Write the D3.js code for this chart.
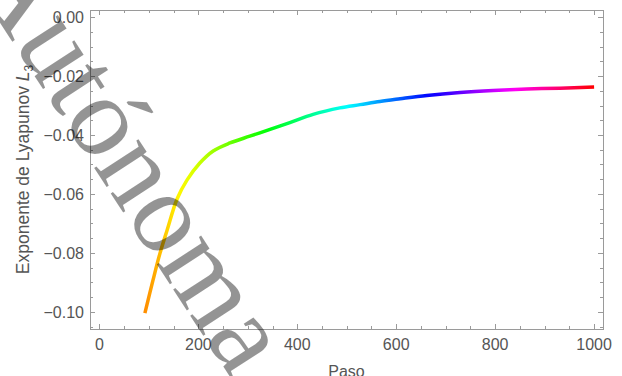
<!DOCTYPE html>
<html>
<head>
<meta charset="utf-8">
<script src="https://cdn.jsdelivr.net/npm/d3@7"></script>
<style>
  html, body { margin: 0; padding: 0; background: #fff; }
  svg { display: block; }
</style>
</head>
<body>
<svg id="chart" width="622" height="376"></svg>
<script>
// Lyapunov exponent L3 as a function of the step count
const steps = [92, 108, 122, 137, 157, 177, 203, 230, 264, 304, 345, 385, 432, 486, 527, 567, 608, 662, 729, 796, 864, 931, 1000];
const exponents = [-0.1004, -0.0895, -0.0804, -0.0722, -0.0617, -0.0553, -0.0495, -0.0454, -0.0427, -0.0404, -0.0381, -0.0358, -0.0330, -0.0308, -0.0297, -0.0286, -0.0277, -0.0266, -0.0256, -0.0249, -0.0244, -0.0241, -0.0237];

const xTickValues = [0, 200, 400, 600, 800, 1000];
const yTickValues = [0, -0.02, -0.04, -0.06, -0.08, -0.10];
const xLabel = "Paso";
const yLabelText = "Exponente de Lyapunov ";
const watermarkText = "Autónoma";

const svg = d3.select("#chart");
const plotLeft = 90, plotRight = 603, plotTop = 10, plotBottom = 329;

const x = d3.scaleLinear().domain([-19, 1018]).range([plotLeft, plotRight]);
const y = d3.scaleLinear().domain([-0.1058, 0.0024]).range([plotBottom, plotTop]);

// hue runs around the colour wheel with the step number
const hueOf = s => d3.hsl(360 * s / 1000, 1, 0.5).toString();

const defs = svg.append("defs");
const s0 = steps[0], s1 = steps[steps.length - 1];
const grad = defs.append("linearGradient")
  .attr("id", "hueGrad")
  .attr("gradientUnits", "userSpaceOnUse")
  .attr("x1", x(s0)).attr("x2", x(s1))
  .attr("y1", 0).attr("y2", 0);
const stopSteps = d3.range(0, 41).map(i => s0 + (s1 - s0) * i / 40);
grad.selectAll("stop").data(stopSteps).enter().append("stop")
  .attr("offset", (d, i) => i / 40)
  .attr("stop-color", d => hueOf(d));

const frameColor = "#9a9a9a";
const textColor = "#555555";
const font = "'Liberation Sans', Arial, sans-serif";

// frame
svg.append("rect")
  .attr("x", plotLeft + 0.5).attr("y", plotTop + 0.5)
  .attr("width", plotRight - plotLeft).attr("height", plotBottom - plotTop)
  .attr("fill", "none").attr("stroke", frameColor).attr("stroke-width", 1);

// ticks on all four sides, pointing inward
const xMinor = d3.range(0, 1001, 50);
const yMinor = d3.range(0, 22).map(i => -i * 0.005);
const isMajorX = v => v % 200 === 0;
const isMajorY = v => Math.abs(Math.round(v * 1000) % 20) === 0;

const tickG = svg.append("g").attr("stroke", frameColor).attr("stroke-width", 1);
xMinor.forEach(v => {
  const len = isMajorX(v) ? 5 : 3;
  const px = Math.round(x(v)) + 0.5;
  tickG.append("line").attr("x1", px).attr("x2", px).attr("y1", plotBottom).attr("y2", plotBottom - len);
  tickG.append("line").attr("x1", px).attr("x2", px).attr("y1", plotTop).attr("y2", plotTop + len);
});
yMinor.filter(v => v >= y.domain()[0]).forEach(v => {
  const len = isMajorY(v) ? 5 : 3;
  const py = Math.round(y(v)) + 0.5;
  tickG.append("line").attr("x1", plotLeft).attr("x2", plotLeft + len).attr("y1", py).attr("y2", py);
  tickG.append("line").attr("x1", plotRight).attr("x2", plotRight - len).attr("y1", py).attr("y2", py);
});

// tick labels
const fmtY = d3.format(".2f");
svg.append("g").selectAll("text").data(xTickValues).enter().append("text")
  .attr("x", d => x(d)).attr("y", 350)
  .attr("text-anchor", "middle")
  .attr("font-family", font).attr("font-size", 16).attr("fill", textColor)
  .text(d => d);
svg.append("g").selectAll("text").data(yTickValues).enter().append("text")
  .attr("x", 84).attr("y", d => y(d) + 6)
  .attr("text-anchor", "end")
  .attr("font-family", font).attr("font-size", 16).attr("fill", textColor)
  .text(d => fmtY(d).replace("-", "\u2212"));

// axis titles
svg.append("text")
  .attr("x", (plotLeft + plotRight) / 2).attr("y", 377)
  .attr("text-anchor", "middle")
  .attr("font-family", font).attr("font-size", 16).attr("fill", textColor)
  .text(xLabel);

const yl = svg.append("text")
  .attr("transform", `translate(29,${(plotTop + plotBottom) / 2}) rotate(-90)`)
  .attr("text-anchor", "middle")
  .attr("font-family", font).attr("font-size", 17.5).attr("fill", textColor);
yl.append("tspan").text(yLabelText);
yl.append("tspan").attr("font-style", "italic").text("L");
yl.append("tspan").attr("font-size", 12).attr("dy", 4).text("3");

// the curve
const line = d3.line()
  .x((d, i) => x(steps[i]))
  .y(d => y(d))
  .curve(d3.curveCatmullRom.alpha(0.5));
svg.append("path")
  .datum(exponents)
  .attr("d", line)
  .attr("fill", "none")
  .attr("stroke", "url(#hueGrad)")
  .attr("stroke-width", 3.5);

// diagonal watermark over the figure
svg.append("text")
  .attr("transform", "translate(232,380) rotate(57)")
  .attr("text-anchor", "end")
  .attr("font-family", "'Liberation Serif', 'Times New Roman', serif")
  .attr("font-size", 115)
  .attr("fill", "#000")
  .attr("fill-opacity", 0.42)
  .text(watermarkText);
</script>
</body>
</html>
